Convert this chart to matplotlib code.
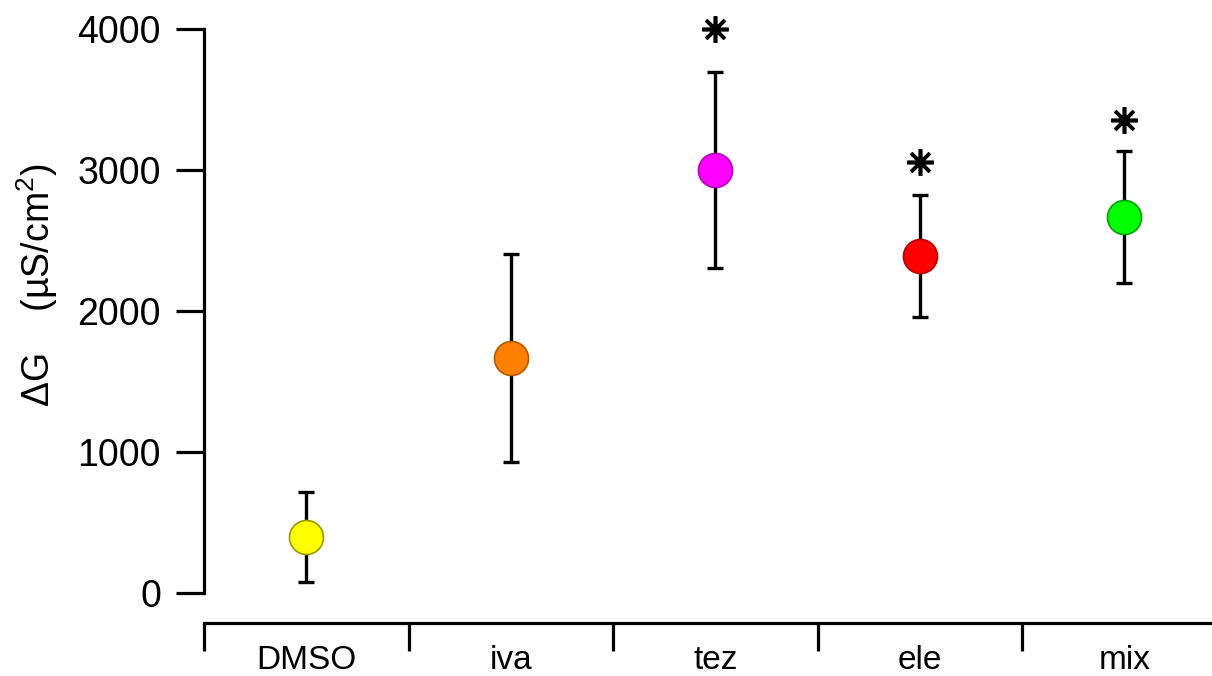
import matplotlib.pyplot as plt
from matplotlib.ticker import FixedLocator, NullFormatter

plt.rcParams['font.family'] = ['Liberation Sans', 'DejaVu Sans']
plt.rcParams['mathtext.fontset'] = 'custom'
plt.rcParams['mathtext.rm'] = 'Liberation Sans'

# data
groups = ['DMSO', 'iva', 'tez', 'ele', 'mix']
means = [397, 1667, 3000, 2390, 2667]
errors = [320, 737, 695, 435, 465]
fills = ['#ffff00', '#ff8000', '#ff00ff', '#ff0000', '#00ff00']
edges = ['#9a9a00', '#b35900', '#b300b3', '#b30000', '#00a000']
# asterisks: group index and height
star_groups = [2, 3, 4]
star_heights = [4000, 3055, 3355]

fig = plt.figure(figsize=(12.12, 6.76), dpi=100)
ax = fig.add_axes([204 / 1212, 83 / 676, 1008 / 1212, 564 / 676])

for i in range(len(groups)):
    ax.errorbar(i, means[i], yerr=errors[i], fmt='none', ecolor='black',
                elinewidth=2.4, capsize=5.5, capthick=2.4, zorder=2)
    ax.plot(i, means[i], 'o', markersize=24.5, markerfacecolor=fills[i],
            markeredgecolor=edges[i], markeredgewidth=1.2, zorder=3)

for g, h in zip(star_groups, star_heights):
    ax.plot(g, h, marker=(8, 2, 0), markersize=19, color='black',
            markeredgewidth=2.6, clip_on=False, zorder=4)

ax.set_xlim(-0.5, -0.5 + 1008 / 204.5)
ax.set_ylim(0, 4000)

# axes styling
for s in ['top', 'right']:
    ax.spines[s].set_visible(False)
ax.spines['left'].set_linewidth(2.3)
ax.spines['bottom'].set_linewidth(2.3)
ax.spines['bottom'].set_position(('outward', 21.6))

ax.set_yticks([0, 1000, 2000, 3000, 4000])
ax.tick_params(axis='y', length=20, width=2.3, pad=11, labelsize=27)

ax.set_xticks(range(len(groups)))
ax.set_xticklabels(groups)
ax.xaxis.set_minor_locator(FixedLocator([i - 0.5 for i in range(len(groups))]))
ax.xaxis.set_minor_formatter(NullFormatter())
ax.tick_params(axis='x', which='major', length=0, pad=16, labelsize=24)
ax.tick_params(axis='x', which='minor', length=20, width=2.3)

ax.set_ylabel(r'ΔG    (µS/cm$^{2}$)', fontsize=27)
ax.yaxis.set_label_coords(-0.143, 0.546)

fig.savefig('out.png', dpi=100)
